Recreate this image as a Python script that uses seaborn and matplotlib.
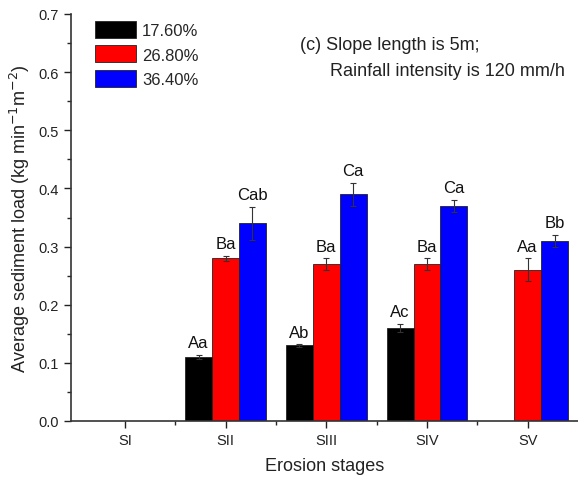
import numpy as np
import pandas as pd
import seaborn as sns
from matplotlib import pyplot as plt
from matplotlib.ticker import MultipleLocator, FixedLocator

stages = ["SI", "SII", "SIII", "SIV", "SV"]
slopes = ["17.60%", "26.80%", "36.40%"]

load_176 = [np.nan, 0.11, 0.13, 0.16, np.nan]
load_268 = [np.nan, 0.28, 0.27, 0.27, 0.26]
load_364 = [np.nan, 0.34, 0.39, 0.37, 0.31]

err_176 = [np.nan, 0.004, 0.002, 0.007, np.nan]
err_268 = [np.nan, 0.004, 0.01, 0.01, 0.02]
err_364 = [np.nan, 0.028, 0.02, 0.01, 0.01]

letters_176 = ["", "Aa", "Ab", "Ac", ""]
letters_268 = ["", "Ba", "Ba", "Ba", "Aa"]
letters_364 = ["", "Cab", "Ca", "Ca", "Bb"]

colors = ["#000000", "#ff0000", "#0000ff"]

rows = []
for slope, vals, errs, labs in zip(slopes, [load_176, load_268, load_364],
                                   [err_176, err_268, err_364],
                                   [letters_176, letters_268, letters_364]):
    for st, v, e, l in zip(stages, vals, errs, labs):
        rows.append({"stage": st, "slope": slope, "load": v, "err": e, "letter": l})
df = pd.DataFrame(rows)

sns.set_style("ticks")
plt.rcParams["font.family"] = ["Liberation Sans", "DejaVu Sans"]

fig = plt.figure(figsize=(5.78, 4.85), dpi=100)
ax = fig.add_axes([71 / 578, 63 / 485, 1 - 71 / 578, (422 - 15) / 485])

sns.barplot(data=df.dropna(subset=["load"]), x="stage", y="load", hue="slope",
            order=stages, hue_order=slopes, palette=colors, saturation=1,
            errorbar=None, width=0.8, edgecolor="#222222", linewidth=0.6, ax=ax)

# error bars and letters from bar positions
lookup = {(r.slope, r.stage): r for r in df.itertuples()}
for slope, cont in zip(slopes, ax.containers):
    for bar in cont:
        h = bar.get_height()
        if np.isnan(h):
            continue
        xc = bar.get_x() + bar.get_width() / 2
        st = stages[int(round(xc))]
        r = lookup[(slope, st)]
        ax.errorbar(xc, h, yerr=r.err, fmt="none", ecolor="#333333",
                    elinewidth=0.8, capsize=2.5, capthick=0.8)
        ax.text(xc, h + r.err + 0.008, r.letter, ha="center", va="bottom",
                fontsize=12, color="#111111")

ax.set_xlim(-0.535, 4.5)
ax.set_ylim(0, 0.7)
ax.yaxis.set_major_locator(MultipleLocator(0.1))
ax.yaxis.set_minor_locator(MultipleLocator(0.05))
ax.xaxis.set_minor_locator(FixedLocator([0.5, 1.5, 2.5, 3.5]))
ax.yaxis.set_major_formatter(plt.FuncFormatter(lambda v, p: f"{v:.1f}"))
ax.tick_params(axis="both", which="major", direction="out", length=5, width=1,
               labelsize=10.5, colors="#222222")
ax.tick_params(axis="both", which="minor", direction="out", length=3, width=1)
for s in ["left", "bottom"]:
    ax.spines[s].set_linewidth(1.2)
    ax.spines[s].set_color("#333333")
sns.despine(ax=ax)

ax.set_xlabel("Erosion stages", fontsize=13, color="#222222", labelpad=7)
ax.set_ylabel("Average sediment load (kg min$^{-1}$m$^{-2}$)", fontsize=13,
              color="#222222", labelpad=5)

ax.legend(loc="upper left", bbox_to_anchor=(0.027, 1.008), frameon=False,
          fontsize=12, handlelength=2.5, handleheight=1.2, handletextpad=0.35,
          labelspacing=0.45, borderaxespad=0.2)

ax.text(0.452, 0.925, "(c) Slope length is 5m;", transform=ax.transAxes,
        fontsize=13, color="#222222", ha="left", va="center")
ax.text(0.511, 0.862, "Rainfall intensity is 120 mm/h", transform=ax.transAxes,
        fontsize=13, color="#222222", ha="left", va="center")

fig.savefig("out.png", dpi=100)
